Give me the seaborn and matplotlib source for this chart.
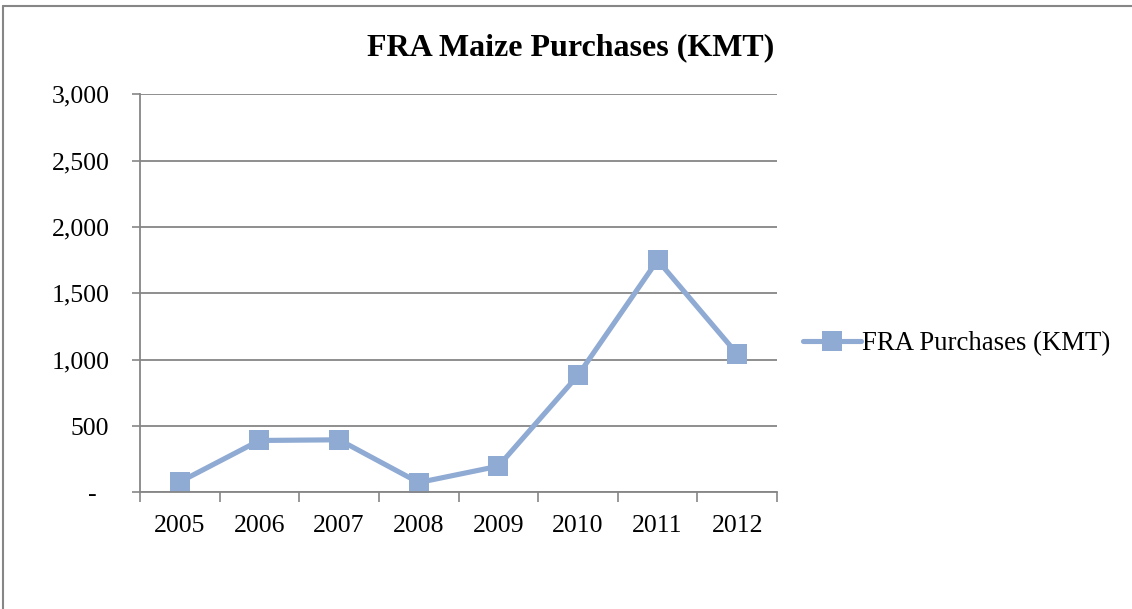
import pandas as pd
import matplotlib.pyplot as plt
import matplotlib.ticker as mticker
from matplotlib.lines import Line2D
import seaborn as sns

sns.set_style("white")
plt.rcParams["font.family"] = ["Liberation Serif", "DejaVu Serif"]
plt.rcParams["text.color"] = "black"
plt.rcParams["xtick.color"] = "black"
plt.rcParams["ytick.color"] = "black"

years = ["2005", "2006", "2007", "2008", "2009", "2010", "2011", "2012"]
purchases = [80, 392, 397, 75, 198, 882, 1750, 1044]
series_name = "FRA Purchases (KMT)"

line_color = "#8FAAD3"
grid_color = "#868686"

df = pd.DataFrame({"year": years, "kmt": purchases})

fig = plt.figure(figsize=(11.32, 6.09), dpi=100)
ax = fig.add_axes([0.1237, 0.1913, 0.5627, 0.6539])

sns.lineplot(data=df, x="year", y="kmt", ax=ax,
             color=line_color, linewidth=3.7,
             marker="s", markersize=14.2, markeredgewidth=0,
             label=series_name)

# y axis
ax.set_ylim(0, 3000)
ax.set_yticks(range(0, 3001, 500))
ax.yaxis.set_major_formatter(mticker.FuncFormatter(
    lambda v, p: "-  " if v == 0 else f"{int(v):,}"))
ax.grid(axis="y", color=grid_color, linewidth=1.3)
ax.grid(axis="x", visible=False)
ax.tick_params(axis="y", length=6, width=1.2, color=grid_color,
               labelcolor="black", pad=16, labelsize=18.5,
               direction="out", left=True)

# x axis: ticks at the category boundaries, labels in between
n = len(years)
ax.set_xlim(-0.5, n - 0.5)
ax.set_xticks([i - 0.5 for i in range(n + 1)])
ax.set_xticklabels([])
ax.set_xticks(range(n), minor=True)
ax.set_xticklabels(years, minor=True)
ax.tick_params(axis="x", which="major", length=7, width=1.2,
               color=grid_color, direction="out", bottom=True)
ax.tick_params(axis="x", which="minor", length=0, pad=16, labelsize=18.5,
               labelcolor="black")
ax.set_xlabel("")
ax.set_ylabel("")

for side in ["top", "right"]:
    ax.spines[side].set_visible(False)
for side in ["left", "bottom"]:
    ax.spines[side].set_color(grid_color)
    ax.spines[side].set_linewidth(1.3)

leg = ax.legend(loc="center left", bbox_to_anchor=(1.041, 0.373),
                frameon=False, fontsize=19.3, handlelength=2.15,
                handletextpad=0.05, borderaxespad=0, borderpad=0)
for t in leg.get_texts():
    t.set_color("black")

fig.text(0.504, 0.921, "FRA Maize Purchases (KMT)", ha="center",
         va="center", fontsize=23, fontweight="bold", color="black")

# chart frame (only left and top edges visible)
x0 = 3 / 1132
y0 = 1 - 6 / 609
fig.add_artist(Line2D([x0, x0], [0, y0], color=grid_color, linewidth=1.5))
fig.add_artist(Line2D([x0, 1], [y0, y0], color=grid_color, linewidth=1.5))

plt.savefig("out.png", dpi=100)
